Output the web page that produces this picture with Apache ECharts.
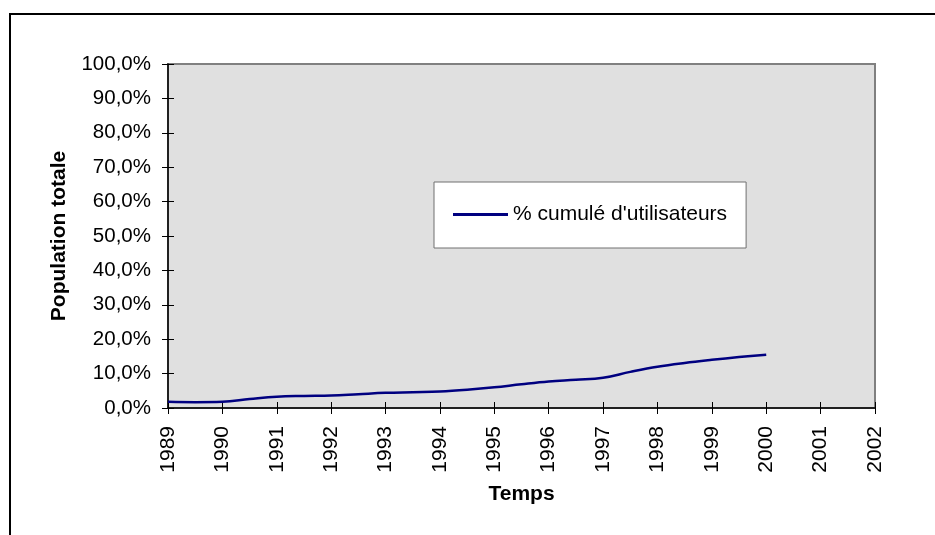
<!DOCTYPE html>
<html><head><meta charset="utf-8">
<script src="https://cdn.jsdelivr.net/npm/echarts@6/dist/echarts.min.js"></script>
<style>html,body{margin:0;padding:0;background:#fff}#c{width:935px;height:535px}</style>
</head><body><div id="c"></div>
<script>
const years = [1989,1989.5,1990,1990.5,1991,1991.5,1992,1992.5,1993,1993.5,1994,1994.5,1995,1995.5,1996,1996.5,1997,1997.5,1998,1998.5,1999,1999.5,2000];
const cumulPct = [1.8,1.7,1.8,2.6,3.3,3.5,3.6,4.0,4.4,4.6,4.8,5.3,6.0,6.9,7.7,8.2,8.8,10.5,12.0,13.1,14.0,14.8,15.5];
const seriesName = "% cumulé d'utilisateurs";
const xTitle = 'Temps';
const yTitle = 'Population totale';

const font = 'Liberation Sans, Arial, sans-serif';
const chart = echarts.init(document.getElementById('c'), null, {renderer:'canvas'});
const fmt = v => v.toFixed(1).replace('.', ',') + '%';
const baseY = {type:'value', min:0, max:100, interval:10};
const baseX = {type:'value', min:1989, max:2002, interval:1};
chart.setOption({
  animation:false,
  graphic:[{type:'rect', shape:{x:10, y:14, width:940, height:540}, style:{fill:'none', stroke:'#000', lineWidth:2}, z:-1}],
  grid:{left:168, top:64, right:60, bottom:127, show:true, backgroundColor:'#e0e0e0', borderColor:'#808080', borderWidth:2},
  legend:{left:434, top:182, data:[{name:seriesName, icon:'rect'}], itemWidth:55, itemHeight:3, itemGap:0,
    backgroundColor:'#fff', borderColor:'#707070', borderWidth:1, padding:[22,19,23,19],
    textStyle:{fontFamily:font, fontSize:21, color:'#000', padding:[0,0,0,0]}},
  xAxis:[
    Object.assign({}, baseX, {name:xTitle, nameLocation:'middle', nameGap:76,
      nameTextStyle:{fontFamily:font, fontSize:21, fontWeight:'bold', color:'#000'},
      axisLine:{show:true, lineStyle:{color:'#000', width:1.5}},
      axisTick:{show:true, length:6, lineStyle:{color:'#000'}},
      axisLabel:{rotate:90, margin:18, fontFamily:font, fontSize:21, color:'#000', formatter:v=>String(v)},
      splitLine:{show:false}}),
    Object.assign({}, baseX, {position:'bottom',
      axisLine:{show:false}, axisTick:{show:true, inside:true, length:6, lineStyle:{color:'#000'}},
      axisLabel:{show:false}, splitLine:{show:false}})
  ],
  yAxis:[
    Object.assign({}, baseY, {name:yTitle, nameLocation:'middle', nameGap:98, nameRotate:90,
      nameTextStyle:{fontFamily:font, fontSize:21, fontWeight:'bold', color:'#000'},
      axisLine:{show:true, lineStyle:{color:'#000', width:1.5}},
      axisTick:{show:true, length:6, lineStyle:{color:'#000'}},
      axisLabel:{margin:17, fontFamily:font, fontSize:20.5, color:'#000', formatter:fmt},
      splitLine:{show:false}}),
    Object.assign({}, baseY, {position:'left',
      axisLine:{show:false}, axisTick:{show:true, inside:true, length:6, lineStyle:{color:'#000'}},
      axisLabel:{show:false}, splitLine:{show:false}})
  ],
  series:[{name:seriesName, type:'line', xAxisIndex:0, yAxisIndex:0, smooth:0.4, showSymbol:false, symbol:'none',
    color:'#000080', lineStyle:{color:'#000080', width:2.5},
    data: years.map((y,i)=>[y, cumulPct[i]])}]
});
</script></body></html>
